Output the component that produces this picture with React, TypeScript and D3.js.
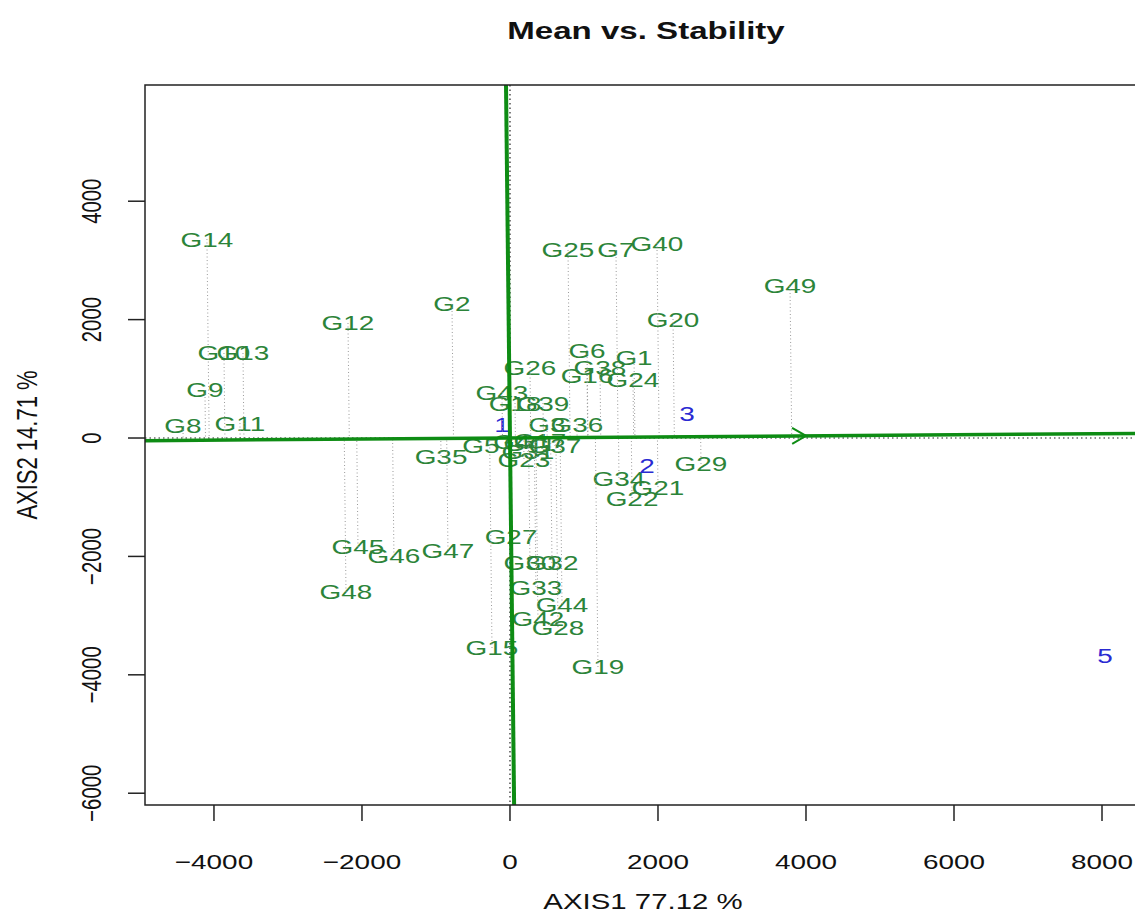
import React from "react";
import * as d3 from "d3";

// genotype scores on the first two GGE axes
const genotypes = [
  "G1", "G2", "G3", "G4", "G5", "G6", "G7", "G8", "G9", "G10",
  "G11", "G12", "G13", "G14", "G15", "G16", "G17", "G18", "G19", "G20",
  "G21", "G22", "G23", "G24", "G25", "G26", "G27", "G28", "G29", "G30",
  "G31", "G32", "G33", "G34", "G35", "G36", "G37", "G38", "G39", "G40",
  "G41", "G42", "G43", "G44", "G45", "G46", "G47", "G48", "G49",
];
const genoAxis1 = [
  1676, -784, 500, 27, -392, 1041, 1432, -4419, -4122, -3865,
  -3649, -2189, -3608, -4095, -243, 1041, 405, 68, 1189, 2203,
  2000, 1649, 189, 1662, 784, 270, 14, 649, 2581, 270,
  243, 568, 351, 1473, -932, 905, 608, 1216, 446, 1986,
  270, 378, -108, 703, -2054, -1568, -838, -2216, 3784,
];
const genoAxis2 = [
  1368, 2264, 236, -51, -135, 1486, 3176, 203, 811, 1436,
  253, 1943, 1436, 3361, -3547, 1064, -34, 591, -3868, 2010,
  -828, -1014, -355, 980, 3176, 1199, -1672, -3193, -439, -2111,
  -236, -2111, -2517, -676, -304, 236, -135, 1199, 591, 3294,
  -101, -3041, 777, -2804, -1841, -1993, -1892, -2601, 2568,
];

// environment scores
const environments = ["1", "2", "3", "5"];
const envAxis1 = [-108, 1851, 2392, 8041];
const envAxis2 = [220, -456, 422, -3666];

// average environment coordinate (direction of the ATC abscissa)
const avgEnv = [4000, 36];

const xTicks = [-4000, -2000, 0, 2000, 4000, 6000, 8000];
const yTicks = [-6000, -4000, -2000, 0, 2000, 4000];

const W = 1135;
const H = 913;
const SX = 1.47; // the source image is stretched wider than tall
const SY = 1.1;
const FONT = "'Liberation Sans', Arial, Helvetica, sans-serif";
const GREEN = "#0e8c14";
const LABEL_GREEN = "#2c8439";

const Txt = ({ x, y, s, size, fill = "#111", bold = false, rotate = false }) => (
  <g transform={`translate(${x},${y}) scale(${SX},${SY})${rotate ? " rotate(-90)" : ""}`}>
    <text
      x={0}
      y={0.358 * size}
      textAnchor="middle"
      fontFamily={FONT}
      fontSize={size}
      fontWeight={bold ? "bold" : "normal"}
      fill={fill}
    >
      {s}
    </text>
  </g>
);

export default function App() {
  const left = 145, right = 1147, top = 85, bottom = 805;
  const x = d3.scaleLinear().domain([-4932, 8608]).range([left, right]);
  const y = d3.scaleLinear().domain([5963, -6199]).range([top, bottom]);

  const [ax, ay] = avgEnv;
  const len = Math.hypot(ax, ay);
  const ux = ax / len, uy = ay / len;
  const [x0, x1] = x.domain();
  const [y0, y1] = y.domain();

  // abscissa and ordinate of the average-environment coordination
  const abscissa = [[x0, (x0 * uy) / ux], [x1, (x1 * uy) / ux]];
  const ordinate = [[(-y0 * uy) / ux, y0], [(-y1 * uy) / ux, y1]];

  // arrow head in pixel space
  const tipX = x(ax), tipY = y(ay);
  const ang = Math.atan2(tipY - y(0), tipX - x(0));
  const headLen = 16, headAng = Math.PI / 6;
  const head = `M${tipX - headLen * Math.cos(ang - headAng)},${tipY - headLen * Math.sin(ang - headAng)} L${tipX},${tipY} L${tipX - headLen * Math.cos(ang + headAng)},${tipY - headLen * Math.sin(ang + headAng)}`;

  return (
    <svg width={W} height={H} style={{ position: "absolute", left: 0, top: 0, background: "#fff" }}>
      <defs>
        <clipPath id="plotClip">
          <rect x={left} y={top} width={right - left} height={bottom - top} />
        </clipPath>
      </defs>
      <rect x={0} y={0} width={W} height={H} fill="#fff" />

      <Txt x={646} y={30} s="Mean vs. Stability" size={22.5} bold />

      {/* genotype labels */}
      {genotypes.map((g, i) => (
        <Txt key={g} x={x(genoAxis1[i])} y={y(genoAxis2[i])} s={g} size={19} fill={LABEL_GREEN} />
      ))}
      {environments.map((e, i) => (
        <Txt key={e} x={x(envAxis1[i])} y={y(envAxis2[i])} s={e} size={19} fill="#2a2ad2" />
      ))}

      <g clipPath="url(#plotClip)">
        {/* projections of genotypes on the abscissa */}
        {genotypes.map((g, i) => {
          const t = genoAxis1[i] * ux + genoAxis2[i] * uy;
          return (
            <line
              key={g}
              x1={x(genoAxis1[i])}
              y1={y(genoAxis2[i])}
              x2={x(t * ux)}
              y2={y(t * uy)}
              stroke="#9a9a9a"
              strokeWidth={1}
              strokeDasharray="1,2.5"
            />
          );
        })}
        {/* zero lines */}
        <line x1={x(0)} x2={x(0)} y1={top} y2={bottom} stroke="#222" strokeWidth={1.2} strokeDasharray="1.5,3" />
        <line x1={left} x2={right} y1={y(0)} y2={y(0)} stroke="#222" strokeWidth={1.2} strokeDasharray="1.5,3" />
        {/* ATC lines */}
        <line x1={x(abscissa[0][0])} y1={y(abscissa[0][1])} x2={x(abscissa[1][0])} y2={y(abscissa[1][1])}
          stroke={GREEN} strokeWidth={3.5} />
        <line x1={x(ordinate[0][0])} y1={y(ordinate[0][1])} x2={x(ordinate[1][0])} y2={y(ordinate[1][1])}
          stroke={GREEN} strokeWidth={4} />
        <line x1={x(0)} y1={y(0)} x2={tipX} y2={tipY} stroke={GREEN} strokeWidth={2} />
        <path d={head} fill="none" stroke={GREEN} strokeWidth={2} />
      </g>

      {/* box */}
      <path d={`M${right},${top} H${left} V${bottom} H${right}`} fill="none" stroke="#222" strokeWidth={1.5} />

      {/* x axis */}
      {xTicks.map((t) => (
        <g key={t}>
          <line x1={x(t)} x2={x(t)} y1={bottom} y2={bottom + 16} stroke="#222" strokeWidth={1.5} />
          <Txt x={x(t)} y={862} s={t < 0 ? `\u2212${Math.abs(t)}` : `${t}`} size={19} />
        </g>
      ))}
      {/* y axis */}
      {yTicks.map((t) => (
        <g key={t}>
          <line x1={left - 17} x2={left} y1={y(t)} y2={y(t)} stroke="#222" strokeWidth={1.5} />
          <Txt x={91} y={y(t)} s={t < 0 ? `\u2212${Math.abs(t)}` : `${t}`} size={18.5} rotate />
        </g>
      ))}

      <Txt x={643} y={901} s="AXIS1 77.12 %" size={20} />
      <Txt x={26} y={445} s="AXIS2 14.71 %" size={20} rotate />
    </svg>
  );
}
